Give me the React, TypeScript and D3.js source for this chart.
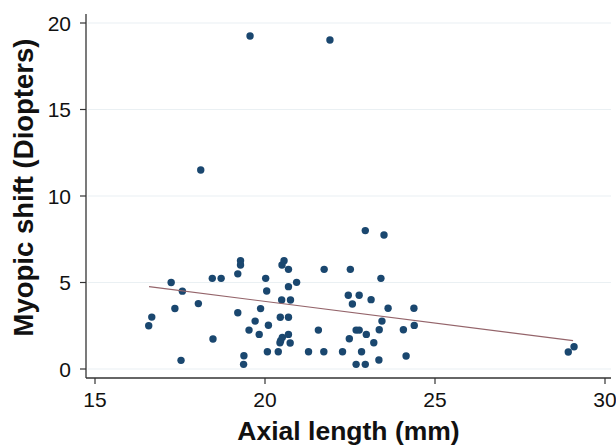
import React from "react";
import * as d3 from "d3";

// axial length (mm) and myopic shift (D)
const axialLength = [
  16.58, 16.67, 17.24, 17.35, 17.53, 17.57, 18.04, 18.11, 18.45, 18.47,
  18.71, 19.2, 19.2, 19.28, 19.28, 19.38, 19.37, 19.53, 19.56, 19.71,
  19.83, 19.87, 20.02, 20.05, 20.07, 20.1, 20.39, 20.45, 20.49, 20.5,
  20.56, 20.44, 20.46, 20.51, 20.69, 20.69, 20.69, 20.69, 20.74, 20.75,
  20.93, 21.28, 21.57, 21.73, 21.74, 21.91, 22.28, 22.45, 22.48, 22.51,
  22.57, 22.68, 22.68, 22.77, 22.77, 22.84, 22.95, 22.95, 22.98, 23.12,
  23.2, 23.35, 23.36, 23.41, 23.44, 23.5, 23.62, 24.07, 24.15, 24.38,
  24.39, 28.92, 29.09,
];
const myopicShift = [
  2.5, 3.0, 5.0, 3.5, 0.5, 4.5, 3.78, 11.5, 5.24, 1.73,
  5.24, 5.5, 3.25, 6.26, 6.01, 0.77, 0.27, 2.25, 19.25, 2.77,
  2.0, 3.49, 5.24, 4.51, 1.0, 2.53, 1.0, 2.99, 3.99, 6.01,
  6.26, 1.52, 1.64, 1.83, 5.76, 4.76, 2.99, 2.0, 1.5, 3.99,
  5.01, 1.0, 2.25, 1.0, 5.76, 19.02, 1.0, 4.26, 1.75, 5.76,
  3.76, 2.25, 0.27, 4.26, 2.25, 1.0, 8.0, 0.27, 2.0, 4.01,
  1.52, 0.52, 2.27, 5.24, 2.77, 7.75, 3.51, 2.27, 0.75, 3.51,
  2.52, 0.98, 1.29,
];

// fitted line end points
const fitX = [16.59, 29.06];
const fitY = [4.76, 1.64];

const xTicks = [15, 20, 25, 30];
const yTicks = [0, 5, 10, 15, 20];

const W = 616;
const H = 446;
const font = "'Liberation Sans', Arial, sans-serif";

export default function App() {
  const x = d3.scaleLinear().domain([15, 30]).range([95, 605]);
  const y = d3.scaleLinear().domain([0, 20]).range([369, 23]);

  const axisX = 86;
  const axisY = 378;

  const points = axialLength.map((v, i) => ({ x: v, y: myopicShift[i] }));
  const fit = fitX.map((v, i) => [v, fitY[i]] as [number, number]);
  const line = d3
    .line<[number, number]>()
    .x((d) => x(d[0]))
    .y((d) => y(d[1]));

  return (
    <svg
      width={W}
      height={H}
      style={{ position: "absolute", left: 0, top: 0, background: "#fff" }}
    >
      {yTicks.map((t) => (
        <line
          key={"g" + t}
          x1={axisX + 2}
          x2={611}
          y1={y(t)}
          y2={y(t)}
          stroke="#eaf0f3"
          strokeWidth={1.2}
        />
      ))}

      {/* axes */}
      <line x1={axisX} x2={axisX} y1={14} y2={axisY} stroke="#333" strokeWidth={1.3} />
      <line x1={axisX} x2={611} y1={axisY} y2={axisY} stroke="#333" strokeWidth={1.3} />

      {yTicks.map((t) => (
        <g key={"y" + t}>
          <line x1={axisX - 6} x2={axisX} y1={y(t)} y2={y(t)} stroke="#333" strokeWidth={1.2} />
          <text
            x={71}
            y={y(t)}
            dy="0.36em"
            textAnchor="end"
            fontFamily={font}
            fontSize={21}
            fill="#111"
          >
            {t}
          </text>
        </g>
      ))}

      {xTicks.map((t) => (
        <g key={"x" + t}>
          <line x1={x(t)} x2={x(t)} y1={axisY} y2={axisY + 6} stroke="#333" strokeWidth={1.2} />
          <text
            x={x(t)}
            y={406.5}
            textAnchor="middle"
            fontFamily={font}
            fontSize={21}
            fill="#111"
          >
            {t}
          </text>
        </g>
      ))}

      {points.map((p, i) => (
        <circle key={i} cx={x(p.x)} cy={y(p.y)} r={3.7} fill="#1a476f" />
      ))}

      <path d={line(fit) || ""} fill="none" stroke="#94646a" strokeWidth={1.2} />

      <text
        x={348.5}
        y={439.5}
        textAnchor="middle"
        fontFamily={font}
        fontSize={26.5}
        fontWeight="bold"
        fill="#111"
      >
        Axial length (mm)
      </text>
      <text
        transform="translate(33,187.5) rotate(-90)"
        textAnchor="middle"
        fontFamily={font}
        fontSize={27.5}
        fontWeight="bold"
        fill="#111"
      >
        Myopic shift (Diopters)
      </text>
    </svg>
  );
}
